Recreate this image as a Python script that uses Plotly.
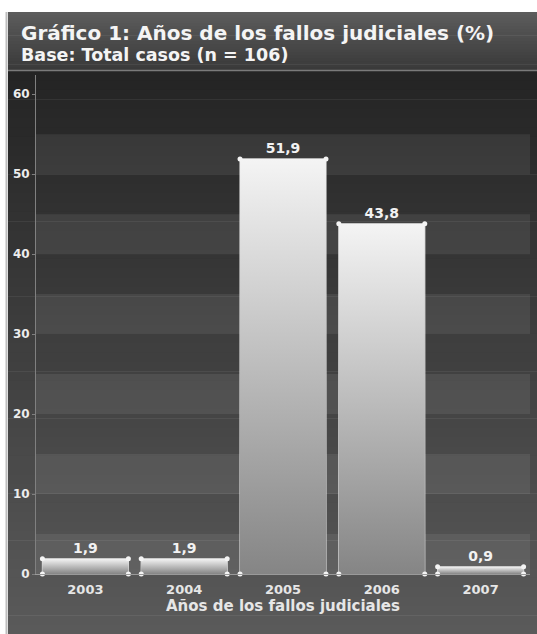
import plotly.graph_objects as go

years = ["2003", "2004", "2005", "2006", "2007"]
values = [1.9, 1.9, 51.9, 43.8, 0.9]
y_ticks = [0, 10, 20, 30, 40, 50, 60]
title_text = "Gráfico 1: Años de los fallos judiciales (%)"
subtitle_text = "Base: Total casos (n = 106)"
x_title = "Años de los fallos judiciales"

W, H = 537, 634
ML, MR, MT, MB = 36, 7, 75, 60
PW, PH = W - ML - MR, H - MT - MB
YMAX = 62.4
BAR_W = 0.87
FONT = "DejaVu Sans"

def px_to_paper_x(px):
    return (px - ML) / PW

def px_to_paper_y(py):
    return (H - MB - py) / PH

def grey(v):
    v = int(round(v))
    return f"rgb({v},{v},{v})"

fig = go.Figure()

xs = list(range(len(years)))

# gradient-filled bar bodies
for i, v in enumerate(values):
    x0, x1 = i - BAR_W / 2, i + BAR_W / 2
    fig.add_trace(go.Scatter(
        x=[x0, x1, x1, x0, x0], y=[0, 0, v, v, 0],
        mode="lines", fill="toself", line=dict(width=0, color="rgba(0,0,0,0)"),
        fillgradient=dict(type="vertical",
                          colorscale=[[0, "#858585"], [1, "#f4f4f4"]]),
        hoverinfo="skip", showlegend=False,
    ))

# bar outlines + labels
fig.add_trace(go.Bar(
    x=xs, y=values, width=BAR_W,
    marker=dict(color="rgba(0,0,0,0)", line=dict(color="rgba(235,235,235,0.9)", width=1.2)),
    text=[f"{v:.1f}".replace(".", ",") for v in values],
    textposition="outside", cliponaxis=False,
    textfont=dict(family=FONT, size=14, color="#f2f2f2", weight="bold"),
    showlegend=False,
))

# corner dots
cx, cy = [], []
for i, v in enumerate(values):
    for dx in (-BAR_W / 2, BAR_W / 2):
        for yy in (0, v):
            cx.append(i + dx)
            cy.append(yy)
fig.add_trace(go.Scatter(x=cx, y=cy, mode="markers",
                         marker=dict(color="#f4f4f4", size=5),
                         hoverinfo="skip", showlegend=False, cliponaxis=False))

shapes = []
panel_x0, panel_x1 = px_to_paper_x(8), px_to_paper_x(537)
top_px, bot_px = 71, 634
N = 60
for k in range(N):
    p0 = top_px + (bot_px - top_px) * k / N
    p1 = top_px + (bot_px - top_px) * (k + 1) / N + 0.6
    t = k / (N - 1)
    c = 36 + (90 - 36) * t
    shapes.append(dict(type="rect", xref="paper", yref="paper", layer="below",
                       x0=panel_x0, x1=panel_x1,
                       y0=px_to_paper_y(p1), y1=px_to_paper_y(p0),
                       fillcolor=grey(c), line=dict(width=0)))
N2 = 20
for k in range(N2):
    p0 = 12 + (70 - 12) * k / N2
    p1 = 12 + (70 - 12) * (k + 1) / N2 + 0.6
    t = k / (N2 - 1)
    c = 92 - (92 - 58) * t
    shapes.append(dict(type="rect", xref="paper", yref="paper", layer="below",
                       x0=panel_x0, x1=panel_x1,
                       y0=px_to_paper_y(p1), y1=px_to_paper_y(p0),
                       fillcolor=grey(c), line=dict(width=0)))
shapes.append(dict(type="line", xref="paper", yref="paper", layer="below",
                   x0=panel_x0, x1=panel_x1, y0=px_to_paper_y(70.5), y1=px_to_paper_y(70.5),
                   line=dict(color="#7a7a7a", width=1.5)))
shapes.append(dict(type="line", xref="paper", yref="paper", layer="below",
                   x0=px_to_paper_x(6.5), x1=px_to_paper_x(6.5),
                   y0=px_to_paper_y(634), y1=px_to_paper_y(12),
                   line=dict(color="#bdbdbd", width=2)))
for b in range(0, 60, 10):
    shapes.append(dict(type="rect", xref="paper", yref="y", layer="below",
                       x0=0, x1=1, y0=b, y1=b + 5,
                       fillcolor="rgba(255,255,255,0.075)", line=dict(width=0)))

fig.update_layout(
    width=W, height=H,
    margin=dict(l=ML, r=MR, t=MT, b=MB),
    paper_bgcolor="white", plot_bgcolor="rgba(0,0,0,0)",
    shapes=shapes,
    barmode="overlay",
    xaxis=dict(range=[-0.5, 4.5], tickvals=xs, ticktext=years,
               showgrid=False, zeroline=False, showline=True,
               linecolor="#9a9a9a", linewidth=1,
               ticks="outside", ticklen=3, tickcolor="rgba(0,0,0,0)",
               tickfont=dict(family=FONT, size=13, color="#e6e6e6", weight="bold"),
               title=dict(text=x_title, standoff=4,
                          font=dict(family=FONT, size=15, color="#e6e6e6", weight="bold"))),
    yaxis=dict(range=[0, YMAX], tickvals=y_ticks, showgrid=False, zeroline=False,
               showline=True, linecolor="#808080", linewidth=1,
               ticks="outside", ticklen=3, tickcolor="#808080",
               tickfont=dict(family=FONT, size=12, color="#ececec", weight="bold")),
    annotations=[
        dict(text=title_text, xref="paper", yref="paper",
             x=px_to_paper_x(19), y=px_to_paper_y(33), xanchor="left", yanchor="middle",
             showarrow=False, font=dict(family=FONT, size=20, color="#f4f4f4", weight="bold")),
        dict(text=subtitle_text, xref="paper", yref="paper",
             x=px_to_paper_x(19), y=px_to_paper_y(55), xanchor="left", yanchor="middle",
             showarrow=False, font=dict(family=FONT, size=17.5, color="#f4f4f4", weight="bold")),
    ],
)

fig.write_html("out.html")
